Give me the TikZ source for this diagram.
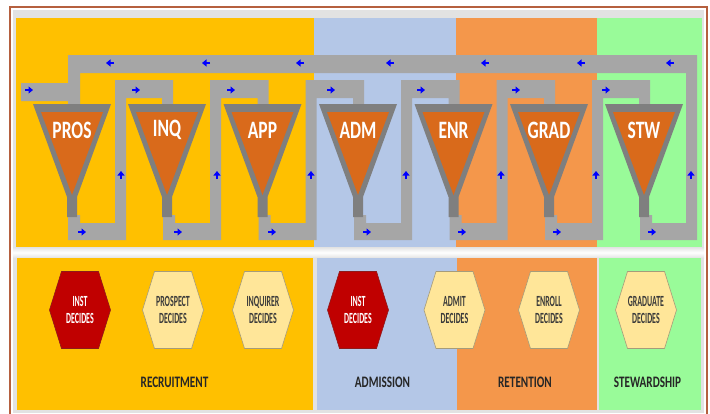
\documentclass[tikz,border=0pt]{standalone}
\usepackage{fontspec}
\setmainfont{Carlito}
\newfontfamily\funnelfont[FakeStretch=0.7]{Carlito}
\newfontfamily\hexfont[FakeStretch=0.51]{Carlito}
\newfontfamily\phasefont[FakeStretch=0.7]{Carlito}
\usetikzlibrary{arrows.meta}
\definecolor{recruityellow}{HTML}{FFC000}
\definecolor{admitblue}{HTML}{B4C7E7}
\definecolor{retainorange}{HTML}{F4974B}
\definecolor{stewgreen}{HTML}{99FB99}
\definecolor{pipegray}{HTML}{A6A6A6}
\definecolor{funnelgray}{HTML}{7F7F7F}
\definecolor{funnelorange}{HTML}{D96A1B}
\definecolor{instred}{HTML}{C00000}
\definecolor{instredline}{HTML}{8E1A1A}
\definecolor{decidecream}{HTML}{FFE699}
\definecolor{decideline}{HTML}{A69C7A}
\definecolor{framebrown}{HTML}{B5603F}
\definecolor{panelgray}{HTML}{E2E2E2}
\definecolor{labeltext}{HTML}{262626}
\definecolor{hextext}{HTML}{3A3A3A}

\begin{document}
\begin{tikzpicture}[x=1pt, y=-1pt,
    pipe/.style={fill=pipegray},
    flow/.style={-{Triangle[length=4.5pt,width=7pt]}, draw=blue, line width=2.8pt},
    funnellabel/.style={text=white, font=\funnelfont\bfseries\fontsize{25}{25}\selectfont},
    instdecides/.style={fill=instred, draw=instredline, line width=0.6pt},
    otherdecides/.style={fill=decidecream, draw=decideline, line width=0.6pt},
    instdecides text/.style={text=white, align=center, font=\hexfont\bfseries\fontsize{15.5}{17.5}\selectfont},
    otherdecides text/.style={text=hextext, align=center, font=\hexfont\bfseries\fontsize{15.5}{17.5}\selectfont},
    phaselabel/.style={text=labeltext, font=\phasefont\bfseries\fontsize{16}{16}\selectfont}]
  \useasboundingbox (0,0) rectangle (710,413);
  % background and frame
  \fill[panelgray] (13,10) rectangle (704,413);
  \shade[top color=panelgray, bottom color=panelgray, middle color=white] (13,247) rectangle (704,258);
  \draw[framebrown, line width=1.8pt] (10,7) rectangle (707,430);
  % phase columns, funnel row
  \fill[recruityellow] (16,18) rectangle (314,247);
  \fill[admitblue] (314,18) rectangle (456,247);
  \fill[retainorange] (456,18) rectangle (597,247);
  \fill[stewgreen] (597,18) rectangle (702,247);
  % phase columns, decision row
  \fill[recruityellow] (17,258) rectangle (313,410);
  \fill[admitblue] (317,258) rectangle (457,410);
  \fill[retainorange] (457,258) rectangle (597,410);
  \fill[stewgreen] (599,258) rectangle (701,410);

  % return pipe and inlet
  \fill[pipe] (21,83) -- (68,83) -- (68,55) -- (697,55) -- (697,240) -- (640,240) -- (640,215)
    -- (652,215) -- (652,223) -- (686,223) -- (686,73) -- (80,73) -- (80,104) -- (68,104)
    -- (68,101) -- (21,101) -- cycle;
  % pipes between funnels
  \foreach \cx/\nx in {72/167, 167/262.5, 262.5/358, 358/453.5, 453.5/549, 549/644} {
    \fill[pipe] (\cx-4,215) -- (\cx-4,240) -- (\cx+54,240) -- (\cx+54,98) -- (\nx-5,98)
      -- (\nx-5,105) -- (\nx+6,105) -- (\nx+6,80) -- (\cx+43,80) -- (\cx+43,223)
      -- (\cx+8,223) -- (\cx+8,215) -- cycle;
  }

  % funnels
  \foreach \cx/\nm/\lbl in {72/pros/PROS, 167/inq/INQ, 262.5/app/APP, 358/adm/ADM,
      453.5/enr/ENR, 549/grad/GRAD, 644/stw/STW} {
    \fill[funnelgray] (\cx-39,104) -- (\cx+39,104) -- (\cx+5,197) -- (\cx+5,217)
      -- (\cx-5,217) -- (\cx-5,197) -- cycle;
    \fill[funnelorange] (\cx-31,112) -- (\cx+31,112) -- (\cx,195) -- cycle;
    \node[funnellabel] (\nm) at (\cx,130) {\lbl};
  }

  % flow direction marks
  \foreach \x in {110, 206, 300, 390, 485, 581, 670}
    \draw[flow] (\x+4,63) -- (\x-4,63);
  \foreach \x in {29, 136, 231, 331, 421, 516, 606}
    \draw[flow] (\x-4,90) -- (\x+4,90);
  \foreach \x in {82, 178, 272, 367, 462, 557, 652}
    \draw[flow] (\x-4,232) -- (\x+4,232);
  \foreach \x in {121, 217, 311, 406, 501, 596, 691}
    \draw[flow] (\x,179) -- (\x,171);

  % decision points
  \foreach \hx/\nm/\kind/\txt in {80/instrecruit/instdecides/{INST\\DECIDES},
      173/prospect/otherdecides/{PROSPECT\\DECIDES}, 263/inquirer/otherdecides/{INQUIRER\\DECIDES},
      358/instadmit/instdecides/{INST\\DECIDES}, 454.5/admit/otherdecides/{ADMIT\\DECIDES},
      549/enroll/otherdecides/{ENROLL\\DECIDES}, 646/graduate/otherdecides/{GRADUATE\\DECIDES}} {
    \filldraw[\kind] (\hx-30.5,310) -- (\hx-18.5,271.5) -- (\hx+18.5,271.5) -- (\hx+30.5,310)
      -- (\hx+18.5,348.5) -- (\hx-18.5,348.5) -- cycle;
    \node[\kind\space text] (\nm) at (\hx,310) {\txt};
  }

  % phase names
  \node[phaselabel] (recruitment) at (174.5,382) {RECRUITMENT};
  \node[phaselabel] (admission) at (382.5,382) {ADMISSION};
  \node[phaselabel] (retention) at (525,382) {RETENTION};
  \node[phaselabel] (stewardship) at (647.5,382) {STEWARDSHIP};
\end{tikzpicture}
\end{document}
